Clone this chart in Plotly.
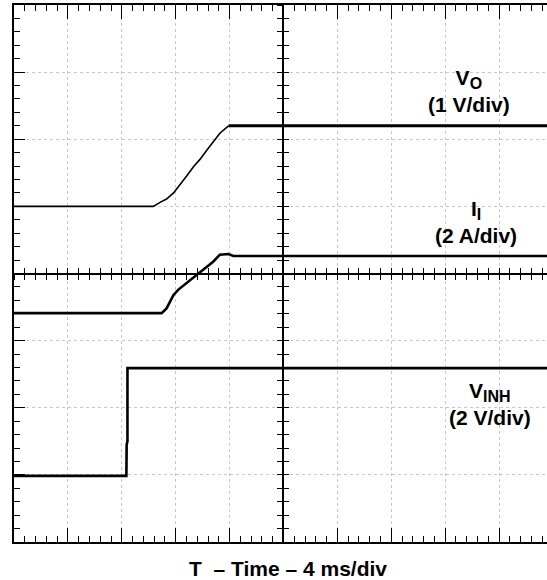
import plotly.graph_objects as go

# Time axis in divisions (4 ms/div), vertical in screen divisions (0 = bottom)
vo_t = [0.0, 2.585, 2.71, 2.83, 2.96, 3.08, 3.20, 3.33, 3.45, 3.58, 3.70, 3.82, 3.98, 10.0]
vo_y = [5.0, 5.0, 5.06, 5.11, 5.20, 5.32, 5.45, 5.59, 5.70, 5.84, 5.97, 6.09, 6.20, 6.20]

ii_t = [0.0, 2.585, 2.74, 2.83, 2.96, 3.05, 3.20, 3.39, 3.58, 3.70, 3.82, 3.98, 4.07, 10.0]
ii_y = [3.41, 3.41, 3.41, 3.48, 3.68, 3.76, 3.86, 3.98, 4.10, 4.18, 4.28, 4.29, 4.26, 4.26]

vinh_t = [0.0, 2.085, 2.09, 2.105, 2.105, 10.0]
vinh_y = [0.985, 0.985, 1.45, 1.50, 2.59, 2.59]

label_main = ["V", "I", "V"]
label_sub = ["O", "I", "INH"]
label_scale = ["(1 V/div)", "(2 A/div)", "(2 V/div)"]
label_x = [8.44, 8.57, 8.83]
label_y = [6.72, 4.76, 2.06]
x_title = "T  \u2013 Time \u2013 4 ms/div"

XMAX = 9.889
YMAX = 8.0
FONT = "Liberation Sans, Arial, sans-serif"

fig = go.Figure()
split = 12
fig.add_trace(go.Scatter(x=vo_t[:split + 1], y=vo_y[:split + 1], mode="lines",
                         line=dict(color="black", width=1.6), showlegend=False))
fig.add_trace(go.Scatter(x=vo_t[split:], y=vo_y[split:], mode="lines",
                         line=dict(color="black", width=3), showlegend=False))
fig.add_trace(go.Scatter(x=ii_t, y=ii_y, mode="lines",
                         line=dict(color="black", width=2.6), showlegend=False))
fig.add_trace(go.Scatter(x=vinh_t, y=vinh_y, mode="lines",
                         line=dict(color="black", width=2.6), showlegend=False))

grid = dict(showgrid=True, gridcolor="#c8c8c8", griddash="dot", gridwidth=1)

fig.update_layout(
    width=547, height=580,
    margin=dict(l=14, r=0, t=5, b=38),
    paper_bgcolor="white", plot_bgcolor="white",
    xaxis=dict(range=[0, XMAX], dtick=1, tick0=0, showticklabels=False,
               showline=True, linecolor="black", linewidth=1.6, mirror="ticks",
               ticks="inside", ticklen=14, tickwidth=1.3, tickcolor="black",
               minor=dict(dtick=0.2, ticks="inside", ticklen=6, tickwidth=1.3,
                          tickcolor="black", showgrid=False),
               zeroline=False, **grid),
    yaxis=dict(range=[0, YMAX], dtick=1, tick0=0, showticklabels=False,
               showline=True, linecolor="black", linewidth=1.6,
               ticks="inside", ticklen=11, tickwidth=1.3, tickcolor="black",
               minor=dict(dtick=0.2, ticks="inside", ticklen=6, tickwidth=1.3,
                          tickcolor="black", showgrid=False),
               zeroline=False, **grid),
)

# Centre cross axes with ticks on both sides
center_x = dict(range=[0, XMAX], overlaying="x", anchor="free", position=0.5,
                showline=True, linecolor="black", linewidth=2, dtick=0.2, tick0=0,
                ticklen=5, tickwidth=1.3, tickcolor="black", showticklabels=False,
                showgrid=False, zeroline=False)
center_y = dict(range=[0, YMAX], overlaying="y", anchor="free", position=5 / XMAX,
                showline=True, linecolor="black", linewidth=2, dtick=0.2, tick0=0,
                ticklen=5, tickwidth=1.3, tickcolor="black", showticklabels=False,
                showgrid=False, zeroline=False)
fig.update_layout(
    xaxis2=dict(center_x, ticks="inside"),
    xaxis3=dict(center_x, ticks="outside"),
    yaxis2=dict(center_y, ticks="inside"),
    yaxis3=dict(center_y, ticks="outside"),
)
# dummy traces so overlay axes are rendered
for xa, ya in [("x2", "y2"), ("x3", "y3")]:
    fig.add_trace(go.Scatter(x=[None], y=[None], xaxis=xa, yaxis=ya, showlegend=False,
                             hoverinfo="skip"))

for m, s, sc, x, y in zip(label_main, label_sub, label_scale, label_x, label_y):
    text = ("<b>" + m + "<sub><span style='font-size:16px'>" + s + "</span></sub></b>"
            "<br><b>" + sc + "</b>")
    fig.add_annotation(x=x, y=y, xref="x", yref="y", text=text,
                       showarrow=False, align="center", yanchor="middle",
                       font=dict(family=FONT, size=21, color="black"))

fig.add_annotation(x=5.09, y=0, xref="x", yref="paper", yanchor="middle", yshift=-26,
                   text="<b>" + x_title + "</b>", showarrow=False,
                   font=dict(family=FONT, size=21, color="black"))

fig.write_html("out.html", config={"displayModeBar": False},
               post_script="document.body.style.margin='0';document.body.style.padding='0';"
                           "document.body.style.overflow='hidden';")
